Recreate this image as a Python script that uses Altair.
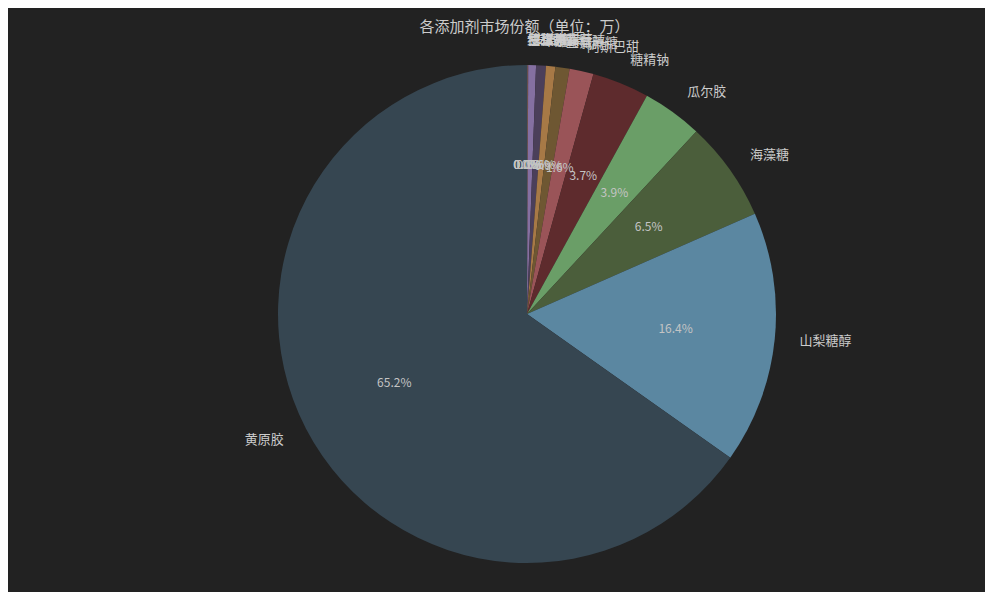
import altair as alt
import pandas as pd

names = ["纽甜", "甘草甜素", "罗汉果甜苷", "甜蜜素", "安赛蜜", "木糖醇", "赤藓糖醇",
         "三氯蔗糖", "阿斯巴甜", "糖精钠", "瓜尔胶", "海藻糖", "山梨糖醇", "黄原胶"]
values = [0.1, 0.2, 0.2, 0.3, 5.0, 6.4, 6.0, 9.2, 15.6, 37, 39, 65, 164, 652]
colors = ["#a0604a", "#7d6b4a", "#6a5a7a", "#9a6a5a", "#8570a2", "#4b3f5a", "#a77946",
          "#6e5732", "#9a5458", "#5e2b2d", "#6a9e67", "#4b5e3b", "#5b87a1", "#364651"]

df = pd.DataFrame({"name": names, "value": values, "idx": list(range(len(names)))})

FONT = "Noto Sans CJK SC"
R = 249

base = alt.Chart(df).transform_joinaggregate(
    total="sum(value)"
).transform_window(
    cum="sum(value)", sort=[alt.SortField("idx", order="ascending")]
).transform_calculate(
    mid="(datum.cum - datum.value / 2) / datum.total",
    pct="format(datum.value / datum.total * 100, '.1f') + '%'",
).transform_calculate(
    rlabel="datum.mid <= 0.5 ? datum.name : ''",
    llabel="datum.mid > 0.5 ? datum.name : ''",
).encode(
    theta=alt.Theta("value:Q", stack=True),
    order=alt.Order("idx:Q", sort="ascending"),
    x=alt.value(519),
    y=alt.value(272),
)

arcs = base.mark_arc(outerRadius=R, stroke=None).encode(
    color=alt.Color("name:N", scale=alt.Scale(domain=names, range=colors), legend=None),
)

pct = base.mark_text(font=FONT, fontSize=12, color="#c4c4c4", align="center", baseline="middle").encode(
    radius=alt.value(R * 0.6), text="pct:N"
)

rlab = base.mark_text(font=FONT, fontSize=13, color="#cccccc", align="left", baseline="middle").encode(
    radius=alt.value(R * 1.1), text="rlabel:N"
)
llab = base.mark_text(font=FONT, fontSize=13, color="#cccccc", align="right", baseline="middle").encode(
    radius=alt.value(R * 1.1), text="llabel:N"
)

chart = alt.layer(arcs, pct, rlab, llab).properties(
    width=977,
    height=550,
    title=alt.TitleParams("各添加剂市场份额（单位：万）", font=FONT, fontSize=15, fontWeight="normal",
                          color="#cccccc", anchor="middle", dx=28, dy=10, offset=9),
    padding={"left": 0, "right": 0, "top": 34, "bottom": 0},
    autosize=alt.AutoSizeParams(type="none"),
    background="#222222",
).configure_view(stroke=None)

chart.save("out.html", embed_options={"renderer": "svg", "actions": False})
